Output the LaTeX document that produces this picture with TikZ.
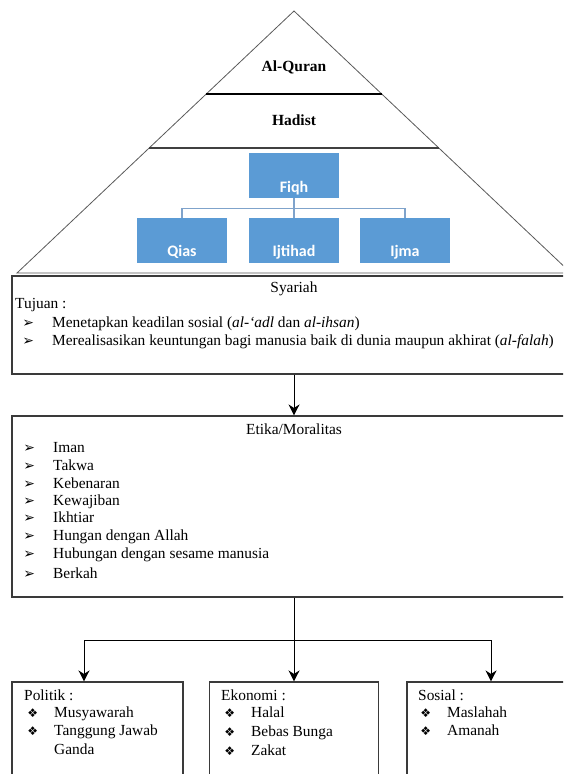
\documentclass[tikz,border=0pt]{standalone}
\usepackage{fontspec}
\setmainfont{Liberation Serif}
\newfontfamily\dingfont{DejaVu Sans}
\newfontfamily\calfont{Carlito}
\usetikzlibrary{arrows.meta,calc,positioning}

\definecolor{fiqhblue}{HTML}{5B9BD5}
\definecolor{fiqhline}{HTML}{7FA3CB}
\definecolor{framegray}{HTML}{3A3A3A}

% bullets
\newcommand{\arrbul}{\llap{{\dingfont\fontsize{14}{14}\selectfont ➢}\hspace{18pt}}}
\newcommand{\diabul}{\llap{{\dingfont\fontsize{12}{12}\selectfont ❖}\hspace{16pt}}}

\tikzset{
  pyrline/.style={draw=black!65, line width=0.8pt},
  layertext/.style={font=\bfseries\fontsize{15.5}{17}\selectfont},
  fiqhbox/.style={fill=fiqhblue, minimum width=90pt, minimum height=45pt, inner sep=0pt},
  fiqhtext/.style={text=white, font=\calfont\bfseries\fontsize{16}{18}\selectfont, anchor=base, inner sep=0pt},
  treeline/.style={draw=fiqhline, line width=1.4pt},
  framebox/.style={draw=framegray, line width=1.1pt, inner sep=0pt},
  item/.style={anchor=west, inner sep=0pt, text height=10pt, text depth=3pt, font=\fontsize{15.4}{17}\selectfont},
  arr/.style={line width=1pt, -{Stealth[length=11pt,width=11pt,inset=3.5pt]}},
}

\begin{document}
\begin{tikzpicture}[x=1pt,y=-1pt]
  \useasboundingbox (0,0) rectangle (563,774);
  \clip (0,0) rectangle (563,774);
  % piramida
  \coordinate (apex) at (294,11);
  \coordinate (bl) at (17,273);
  \coordinate (br) at (571,273);
  \draw[pyrline] (bl) -- (apex) -- (br) -- cycle;
  \draw[line width=2.2pt] ($(apex)!0.317!(bl)$) -- ($(apex)!0.317!(br)$);
  \draw[line width=1.5pt,draw=black!75] ($(apex)!0.523!(bl)$) -- ($(apex)!0.523!(br)$);
  \node[layertext] (quran) at (294,67) {Al-Quran};
  \node[layertext] (hadist) at (294,120) {Hadist};
  % fiqh
  \node[fiqhbox] (fiqh) at (294,175) {};
  \node[fiqhbox] (qias) at (182,240.5) {};
  \node[fiqhbox] (ijtihad) at (294,240.5) {};
  \node[fiqhbox] (ijma) at (405,240.5) {};
  \node[fiqhtext] (fiqhlbl) at (294,192) {Fiqh};
  \node[fiqhtext] (qiaslbl) at (182,256) {Qias};
  \node[fiqhtext] (ijtihadlbl) at (294,256) {Ijtihad};
  \node[fiqhtext] (ijmalbl) at (405,256) {Ijma};
  \draw[treeline] (fiqh.south) -- ++(0,11) -| (qias.north);
  \draw[treeline] (fiqh.south) -- ++(0,11) -| (ijma.north);
  \draw[treeline] (fiqh.south) -- (ijtihad.north);
  % syariah
  \node[framebox, minimum width=564pt, minimum height=98pt] (syariah) at (294,325) {};
  \node[item, anchor=center] (syariahttl) at (294,289) {Syariah};
  \node[item] (tujuan) at (15,305) {Tujuan :};
  \node[item] (tuj1) at (52,324) {\arrbul Menetapkan keadilan sosial (\textit{al-‘adl} dan \textit{al-ihsan})};
  \node[item] (tuj2) at (52,342) {\arrbul Merealisasikan keuntungan bagi manusia baik di dunia maupun akhirat (\textit{al-falah})};
  % etika
  \node[framebox, minimum width=564pt, minimum height=181pt] (etika) at (294,506.5) {};
  \draw[arr] (syariah.south) -- (etika.north);
  \node[item, anchor=center] (etikattl) at (294,431) {Etika/Moralitas};
  \foreach \yy/\txt [count=\i] in {449/Iman, 467/Takwa, 485/Kebenaran, 502/Kewajiban,
      519/Ikhtiar, 537/Hungan dengan Allah, 555/Hubungan dengan sesame manusia, 575/Berkah}
    \node[item] (etk\i) at (53,\yy) {\arrbul\txt};
  % cabang bawah
  \coordinate (split) at (294,640);
  \node[framebox, minimum width=171pt, minimum height=100pt] (politik) at (97.5,732) {};
  \node[framebox, minimum width=169pt, minimum height=100pt] (ekonomi) at (294,732) {};
  \node[framebox, minimum width=168pt, minimum height=100pt] (sosial) at (491,732) {};
  \draw[line width=1pt] (etika.south) -- (split);
  \draw[arr] (split) -| ([xshift=-13.5pt]politik.north);
  \draw[arr] (split) -- (ekonomi.north);
  \draw[arr] (split) -| (sosial.north);
  %
  \node[item] (poltt) at (24,697) {Politik :};
  \node[item] (pol1) at (54,714) {\diabul Musyawarah};
  \node[item] (pol2) at (54,732) {\diabul Tanggung Jawab};
  \node[item] (pol3) at (54,751) {Ganda};
  \node[item] (ekott) at (221,697) {Ekonomi :};
  \node[item] (eko1) at (251,714) {\diabul Halal};
  \node[item] (eko2) at (251,733) {\diabul Bebas Bunga};
  \node[item] (eko3) at (251,752) {\diabul Zakat};
  \node[item] (sostt) at (418,697) {Sosial :};
  \node[item] (sos1) at (447,714) {\diabul Maslahah};
  \node[item] (sos2) at (447,732) {\diabul Amanah};
\end{tikzpicture}
\end{document}
